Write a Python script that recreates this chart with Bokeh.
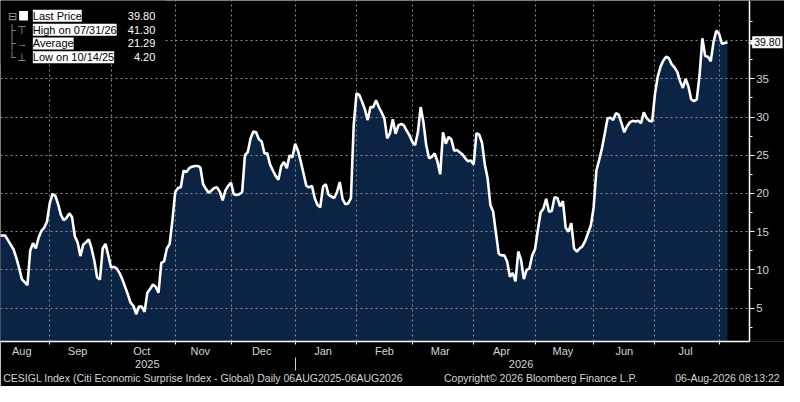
import numpy as np
import pandas as pd
from bokeh.plotting import figure
from bokeh.models import (Range1d, LinearAxis, FixedTicker, Grid, Label,
                          BoxAnnotation, ColumnDataSource)
from bokeh.embed import file_html
from bokeh.resources import INLINE

# ---------------- data ----------------
start_date = "2025-08-06"   # first business day of the series
values = [
    14.5, 14.5, 14.5, 13.9, 13.3, 12.7, 11.6, 10.3, 8.8, 8.4,
    8.0, 12.5, 13.5, 12.8, 14.2, 15.1, 15.5, 16.3, 18.7, 19.9,
    19.7, 18.6, 17.2, 16.5, 16.8, 17.4, 16.9, 14.4, 13.6, 11.8,
    13.3, 13.6, 14.0, 12.8, 11.2, 9.0, 8.75, 12.8, 13.4, 11.9,
    10.3, 10.4, 10.2, 9.6, 8.8, 7.8, 6.8, 5.7, 5.3, 4.2,
    5.2, 5.2, 4.5, 7.0, 7.5, 8.1, 7.8, 7.0, 10.9, 11.1,
    12.8, 13.4, 16.5, 20.2, 20.7, 20.8, 23.0, 22.8, 23.3, 23.5,
    23.6, 23.6, 23.4, 21.2, 20.6, 20.1, 20.4, 20.7, 20.8, 20.2,
    19.1, 20.4, 21.0, 21.4, 19.9, 19.8, 19.9, 20.2, 25.0, 25.4,
    27.2, 28.1, 28.0, 27.1, 26.8, 25.25, 25.25, 23.8, 23.0, 22.3,
    21.8, 23.6, 24.1, 23.3, 25.0, 24.7, 26.5, 25.6, 24.2, 22.6,
    21.0, 20.8, 21.0, 19.4, 18.5, 18.2, 20.9, 21.2, 19.8, 19.6,
    19.4, 20.2, 21.5, 19.25, 18.6, 18.7, 19.4, 29.0, 33.1, 32.9,
    32.0, 31.0, 29.6, 31.3, 31.3, 32.2, 31.3, 30.6, 29.8, 27.2,
    27.9, 29.7, 27.8, 28.9, 29.1, 28.9, 28.2, 27.6, 26.75, 26.3,
    28.0, 31.3, 29.3, 26.3, 24.6, 24.8, 25.25, 24.2, 22.5, 28.0,
    26.5, 27.4, 27.1, 25.6, 25.7, 25.4, 25.1, 24.6, 24.2, 24.3,
    23.8, 27.9, 27.7, 26.6, 23.8, 22.0, 18.5, 17.6, 14.8, 12.1,
    11.9, 11.9, 11.1, 9.1, 9.6, 8.5, 12.4, 11.3, 8.8, 10.0,
    10.2, 11.9, 12.7, 15.2, 17.5, 18.0, 19.3, 17.6, 17.7, 19.5,
    19.4, 18.3, 19.0, 15.5, 15.0, 16.1, 12.8, 12.4, 12.8, 13.1,
    13.8, 14.8, 15.8, 18.1, 23.0, 24.4, 25.9, 27.8, 29.8, 29.9,
    29.6, 30.5, 30.3, 29.2, 28.0, 28.8, 29.3, 29.5, 29.4, 29.5,
    29.2, 30.6, 29.9, 29.5, 29.4, 33.0, 35.3, 36.6, 37.4, 37.9,
    37.7, 36.9, 36.5, 35.9, 34.7, 33.8, 35.0, 34.0, 32.3, 32.1,
    32.3, 35.5, 40.3, 38.0, 37.9, 37.3, 39.8, 41.3, 40.9, 39.6,
    39.7, 39.8,
]
legend_names = ["Last Price", "High on 07/31/26", "Average", "Low on 10/14/25"]
legend_values = ["39.80", "41.30", "21.29", "4.20"]
last_price_tag = "39.80"
y_ticks = [5, 10, 15, 20, 25, 30, 35, 40]
y_minor = [2.5, 7.5, 12.5, 17.5, 22.5, 27.5, 32.5, 37.5, 42.5]
footer_texts = [
    "CESIGL Index (Citi Economic Surprise Index - Global) Daily 06AUG2025-06AUG2026",
    "Copyright\u00a9 2026 Bloomberg Finance L.P.",
    "06-Aug-2026 08:13:22",
]

# ---------------- derived ----------------
dates = pd.bdate_range(start_date, periods=len(values))
idx = np.arange(len(values))
src = ColumnDataSource(dict(x=idx, y=values))

# reference-pixel helpers (layout only)
PPD = 2.846
def X(px):
    return (px + 1.0) / PPD
def Y(py):
    return (362.0 - py) / 8.0

x_start, x_axis_pos, x_end = X(0), X(764), X(800)
y_start, y_end = Y(357), Y(0)

months = dates.to_period("M")
boundaries, mids, mid_labels = [], [], []
for i, m in enumerate(pd.unique(months)):
    pos = idx[months == m]
    if i > 0:
        boundaries.append(int(pos[0]))
    if len(pos) >= 10:
        mids.append(int(round(pos.mean())))
        mid_labels.append(dates[pos[0]].strftime("%b"))

years = dates.year
year_ticks, year_labels, year_start_idx = [], [], []
for yv in sorted(set(years)):
    pos = idx[years == yv]
    lo = x_start if pos[0] == 0 else pos[0]
    hi = x_axis_pos if yv == max(years) else pos[-1] + 1
    year_ticks.append(int(round((lo + hi) / 2)))
    year_labels.append(str(yv))
    if pos[0] != 0:
        year_start_idx.append(int(pos[0]))

footer_ticks = [int(round(X(206))), int(round(X(551))), int(round(X(742)))]

FONT = "Liberation Sans"
TXT = "#d4d4d4"
HAS_PAD = "padding" in Label.properties()

p = figure(width=784, height=386, output_backend="svg", toolbar_location=None,
           x_range=Range1d(x_start, x_end), y_range=Range1d(y_start, y_end),
           x_axis_location=None, y_axis_location=None,
           min_border_left=0, min_border_top=0, min_border_right=0, min_border_bottom=40)
p.background_fill_color = "black"
p.border_fill_color = "black"
p.outline_line_color = None
p.grid.visible = False

# data
p.varea(x="x", y1=0, y2="y", source=src, fill_color="#0c2444", level="image")
p.line(x="x", y="y", source=src, line_color="white", line_width=2.6)

# grids
p.add_layout(Grid(dimension=0, ticker=FixedTicker(ticks=boundaries),
                  grid_line_color="#8c8c8c", grid_line_dash="2 3", grid_line_width=1))
p.add_layout(Grid(dimension=1, ticker=FixedTicker(ticks=y_ticks),
                  grid_line_color="#8c8c8c", grid_line_dash="2 3", grid_line_width=1))
# keep the grid out of the value-axis strip
p.add_layout(BoxAnnotation(left=x_axis_pos, fill_color="black", fill_alpha=1.0,
                           line_color=None, level="underlay"))

def style_axis(ax, size="11px"):
    ax.major_label_text_color = TXT
    ax.major_label_text_font = FONT
    ax.major_label_text_font_size = size

# value axis on the right, pinned at the end of the date span
ya = LinearAxis(ticker=FixedTicker(ticks=y_ticks, minor_ticks=y_minor),
                fixed_location=x_axis_pos)
ya.major_label_overrides = {40: ""}
ya.axis_line_color = "white"
ya.axis_line_width = 1.5
ya.major_tick_line_color = "white"
ya.major_tick_in = 0
ya.major_tick_out = 5
ya.minor_tick_line_color = "white"
ya.minor_tick_in = 0
ya.minor_tick_out = 3
ya.major_label_standoff = 2
style_axis(ya, "11.5px")
p.add_layout(ya, "right")

# bottom month axis
xa = LinearAxis(ticker=FixedTicker(ticks=mids, minor_ticks=boundaries),
                bounds=(x_start, x_axis_pos))
xa.major_label_overrides = {m: lab for m, lab in zip(mids, mid_labels)}
xa.axis_line_color = "white"
xa.axis_line_width = 1.5
xa.major_tick_line_color = None
xa.major_tick_in = 0
xa.major_tick_out = 0
xa.minor_tick_line_color = "white"
xa.minor_tick_in = 0
xa.minor_tick_out = 3
xa.major_label_standoff = 0
style_axis(xa, "11px")
p.add_layout(xa, "below")

# bottom year axis
yr = LinearAxis(ticker=FixedTicker(ticks=year_ticks, minor_ticks=[]))
yr.major_label_overrides = {t: lab for t, lab in zip(year_ticks, year_labels)}
yr.axis_line_color = None
yr.major_tick_line_color = None
yr.minor_tick_line_color = None
yr.major_tick_in = 0
yr.major_tick_out = 0
yr.major_label_standoff = 0
style_axis(yr, "11px")
p.add_layout(yr, "below")

# footer line as a label-only axis; its inward minor tick is the year separator
ft = LinearAxis(ticker=FixedTicker(ticks=footer_ticks, minor_ticks=year_start_idx))
ft.major_label_overrides = {t: s for t, s in zip(footer_ticks, footer_texts)}
ft.axis_line_color = None
ft.major_tick_line_color = None
ft.major_tick_in = 0
ft.major_tick_out = 0
ft.minor_tick_line_color = "#cfcfcf"
ft.minor_tick_in = 13
ft.minor_tick_out = 0
ft.major_label_standoff = 1
style_axis(ft, "10.5px")
p.add_layout(ft, "below")

# legend block
p.add_layout(BoxAnnotation(left=x_start, right=X(168), top=y_end, bottom=Y(66),
                           fill_color="black", fill_alpha=1.0, line_color=None,
                           level="annotation"))
row_py = [16, 30.5, 45, 59.5]
tree = ["\u229f", "\u251c", "\u251c", "\u2514"]
marks = ["", "\u22a4", "\u2192", "\u22a5"]
for k in range(4):
    yy = Y(row_py[k])
    p.add_layout(Label(x=X(12), y=yy, text=tree[k], text_color="#9a9a9a",
                       text_font=FONT, text_font_size="11px",
                       text_align="center", text_baseline="middle"))
    if marks[k]:
        p.add_layout(Label(x=X(22), y=yy, text=marks[k], text_color="#9a9a9a",
                           text_font=FONT, text_font_size="11px",
                           text_align="center", text_baseline="middle"))
    p.add_layout(Label(x=X(33), y=yy, text=legend_names[k], text_color="black",
                       background_fill_color="white", text_font=FONT,
                       text_font_size="11px", text_align="left",
                       text_baseline="middle"))
    p.add_layout(Label(x=X(158), y=yy, text=legend_values[k], text_color="white",
                       text_font=FONT, text_font_size="11px",
                       text_align="right", text_baseline="middle"))
p.add_layout(BoxAnnotation(left=X(19), right=X(28), top=Y(11), bottom=Y(21),
                           fill_color="white", fill_alpha=1.0, line_color=None,
                           level="annotation"))

# last price tag next to the value axis
p.add_layout(Label(x=x_axis_pos, y=values[-1], x_offset=-1, text="\u25c0",
                   text_color="white", text_font_size="8px",
                   text_align="left", text_baseline="middle"))
tag_kw = dict(padding=2) if HAS_PAD else {}
p.add_layout(Label(x=x_axis_pos, y=values[-1], x_offset=3, text=last_price_tag,
                   text_color="black", background_fill_color="white",
                   text_font=FONT, text_font_size="10.5px",
                   text_align="left", text_baseline="middle", **tag_kw))

open("out.html", "w").write(file_html(p, INLINE))
